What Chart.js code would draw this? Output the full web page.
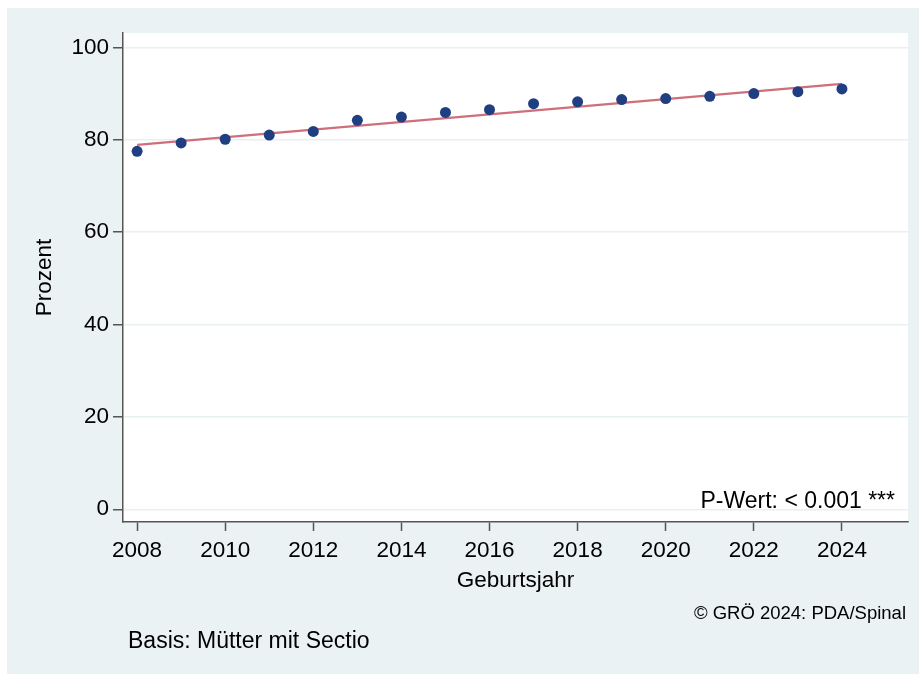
<!DOCTYPE html>
<html>
<head>
<meta charset="utf-8">
<script src="https://cdn.jsdelivr.net/npm/chart.js@4/dist/chart.umd.min.js"></script>
<style>
html,body{margin:0;padding:0;background:#fff;}
#wrap{width:919px;height:674px;position:relative;}
</style>
</head>
<body>
<div id="wrap"><canvas id="c" width="919" height="674"></canvas></div>
<script>
const years = [2008,2009,2010,2011,2012,2013,2014,2015,2016,2017,2018,2019,2020,2021,2022,2023,2024];
const percent = [77.5,79.3,80.1,81.0,81.8,84.2,84.9,85.9,86.5,87.8,88.2,88.7,88.9,89.4,90.0,90.4,91.0];
const trendYears = [2008,2024];
const trendValues = [78.9,92.1];
const xTicks = [2008,2010,2012,2014,2016,2018,2020,2022,2024];
const yTicks = [0,20,40,60,80,100];
const xTitle = 'Geburtsjahr';
const yTitle = 'Prozent';
const pText = 'P-Wert: < 0.001 ***';
const copyText = '\u00A9 GR\u00D6 2024: PDA/Spinal';
const noteText = 'Basis: M\u00FCtter mit Sectio';

const FONT = '"Liberation Sans", Arial, sans-serif';
const BG = '#eaf2f3';

const decor = {
  id: 'decor',
  beforeDraw(chart) {
    const ctx = chart.ctx, a = chart.chartArea;
    ctx.save();
    ctx.fillStyle = '#ffffff';
    ctx.fillRect(0, 0, chart.width, chart.height);
    ctx.fillStyle = BG;
    ctx.fillRect(7, 8, chart.width - 7, chart.height - 8);
    ctx.fillStyle = '#ffffff';
    ctx.fillRect(a.left, a.top, a.right - a.left, a.bottom - a.top);
    ctx.restore();
  },
  afterDraw(chart) {
    const ctx = chart.ctx, a = chart.chartArea;
    ctx.save();
    ctx.fillStyle = BG;
    ctx.fillRect(a.right + 0.75, 8, chart.width - a.right, a.bottom - 8 + 20);
    ctx.fillStyle = '#000';
    ctx.textBaseline = 'alphabetic';
    ctx.font = '23px ' + FONT;
    ctx.textAlign = 'right';
    ctx.fillText(pText, 895, 508);
    ctx.font = '18.5px ' + FONT;
    ctx.fillText(copyText, 906, 619);
    ctx.font = '23px ' + FONT;
    ctx.textAlign = 'left';
    ctx.fillText(noteText, 128, 648);
    ctx.restore();
  }
};

new Chart(document.getElementById('c'), {
  type: 'scatter',
  data: {
    datasets: [
      {
        type: 'line',
        data: trendYears.map((x, i) => ({x: x, y: trendValues[i]})),
        borderColor: '#cf6f7b',
        borderWidth: 2.2,
        pointRadius: 0,
        fill: false,
        order: 2
      },
      {
        data: years.map((x, i) => ({x: x, y: percent[i]})),
        backgroundColor: '#1f3f82',
        borderColor: '#1f3f82',
        pointRadius: 5.5,
        pointBorderWidth: 0,
        order: 1
      }
    ]
  },
  plugins: [decor],
  options: {
    responsive: false,
    animation: false,
    layout: { padding: { left: 0, right: 11, top: 33, bottom: 0 } },
    plugins: { legend: { display: false }, tooltip: { enabled: false } },
    scales: {
      x: {
        type: 'linear',
        min: 2007.68,
        max: 2025.5,
        afterBuildTicks: s => { s.ticks = xTicks.map(v => ({value: v})); },
        afterFit: s => { s.height = 152; },
        grid: { drawOnChartArea: false, drawTicks: true, tickLength: 9, tickColor: '#555', tickWidth: 1.5 },
        border: { display: true, color: '#555', width: 1.5 },
        ticks: { color: '#000', font: { family: FONT, size: 22.5 }, padding: 6, maxRotation: 0, autoSkip: false,
                 callback: v => String(v) },
        title: { display: true, text: xTitle, color: '#000', font: { family: FONT, size: 22.5 }, padding: { top: 0, bottom: 80 } }
      },
      y: {
        min: -2.75,
        max: 103.1,
        afterBuildTicks: s => { s.ticks = yTicks.map(v => ({value: v})); },
        afterFit: s => { s.width = 123; },
        grid: { color: '#e8f0f2', lineWidth: 1.5, drawTicks: true, tickLength: 10, tickColor: '#555', tickWidth: 1.5 },
        border: { display: true, color: '#555', width: 1.5 },
        ticks: { color: '#000', font: { family: FONT, size: 22.5 }, padding: 4, callback: v => String(v) },
        title: { display: true, text: yTitle, color: '#000', font: { family: FONT, size: 22.5 }, padding: { top: 31, bottom: 0 } }
      }
    }
  }
});
</script>
</body>
</html>
